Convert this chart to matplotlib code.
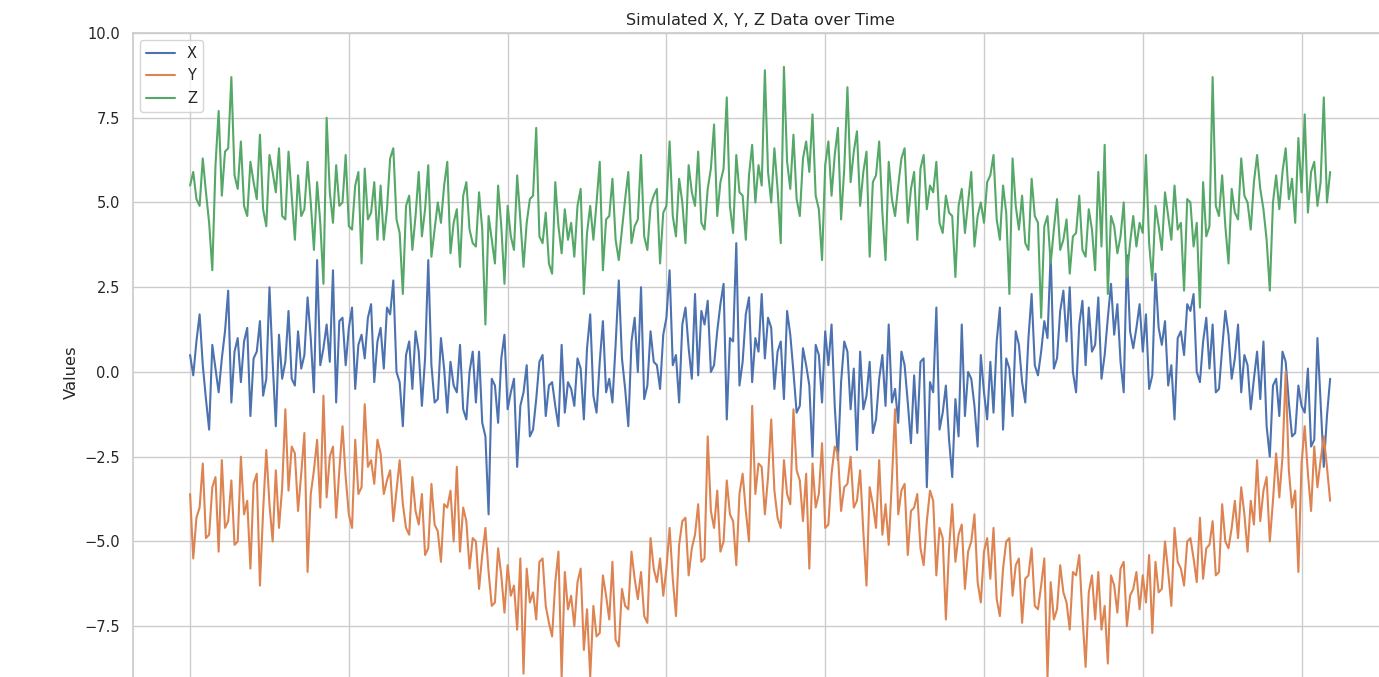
import numpy as np
import matplotlib
matplotlib.use("Agg")
import matplotlib.pyplot as plt
import seaborn as sns

# sensor readings, one sample every 0.2 time units
dt = 0.2

x_vals = [
    0.5, -0.1, 0.9, 1.7, 0.2, -0.8, -1.7, 0.8, 0.1, -0.6, 0.4, 1.2, 2.4, -0.9, 0.6, 1.0, -0.3, 0.9, 1.3, -1.3, 0.4, 0.6, 1.5, -0.7, -0.2, 2.5, 0.3, -1.6, 1.1, -0.2,
    0.3, 1.8, -0.2, -0.4, 1.2, 0.1, 0.5, 2.2, 1.0, -0.6, 3.3, 0.2, 0.7, 1.4, 0.3, 3.0, -0.9, 1.5, 1.6, 0.2, 1.3, 1.9, -0.5, 0.8, 1.1, 0.4, 1.6, 2.0, -0.3, 0.9,
    1.3, 0.1, 1.9, 1.7, 2.7, 0.0, -0.3, -1.6, 0.5, 0.9, -0.5, 1.2, 0.6, -1.0, 0.4, 3.3, 0.2, -0.9, -0.8, 1.0, 0.1, -1.2, 0.3, -0.4, -0.6, 0.8, -1.1, -1.4, 0.0, 0.6,
    -0.9, 0.6, -1.5, -1.9, -4.2, -0.2, -0.4, -1.5, 0.4, 1.1, -1.1, -0.6, -0.2, -2.8, -1.0, -0.6, 0.2, -1.9, -1.7, -0.8, 0.3, 0.5, -1.3, -0.4, -0.3, -1.0, -1.6, 0.8, -1.2, -0.3,
    -0.5, -1.0, 0.4, 0.1, -1.4, 0.7, 1.7, -0.7, -1.2, 0.3, 1.5, -0.6, -0.2, -0.9, 0.8, 2.7, 0.4, -0.5, -1.6, 0.9, 1.6, 0.0, 2.5, -0.8, -0.4, 1.2, 0.3, 0.2, -0.5, 1.1,
    1.6, 3.0, 0.2, 0.5, -0.9, 1.4, 1.9, 0.7, -0.2, 2.3, -0.1, 1.8, 1.4, 2.1, 0.0, 0.2, 1.2, 2.0, 2.6, -1.4, 1.0, 0.9, 3.8, -0.4, 0.3, 1.7, 2.2, -0.3, 1.0, 0.6,
    2.3, 0.4, 1.6, 1.3, -0.5, 0.6, 0.9, -0.8, 1.8, 1.1, 0.0, -1.2, -1.0, 0.7, 0.2, -0.4, -2.5, 0.8, 0.5, -0.9, 1.2, 0.2, 1.4, -1.0, -2.6, -0.3, 0.9, 0.6, -1.1, 0.1,
    -2.3, 0.6, -1.1, -0.7, 0.3, -1.8, -1.4, -0.2, 0.5, -1.0, 1.4, -0.9, -0.5, -1.5, 0.6, 0.2, -0.9, -2.1, -0.1, -1.8, 0.3, 0.4, -3.4, -0.3, -0.6, 1.9, -1.7, -1.2, -0.4, -2.0,
    -3.1, -0.8, -1.9, 1.4, -1.3, 0.0, -0.2, -1.0, -2.2, 0.5, -0.6, -1.4, 0.3, -1.2, 0.9, 1.9, -1.7, 0.4, 0.1, -1.3, 1.2, 0.8, -0.3, -0.9, 1.0, 2.3, 0.2, -0.1, 0.6, 1.5,
    1.0, 3.5, 0.1, 0.4, 1.8, 2.4, 0.9, 2.5, 0.0, -0.6, 1.4, 2.1, 0.2, 1.9, 0.6, 0.8, 2.2, -0.2, 0.5, 1.6, 2.6, 1.1, 2.0, 0.3, -0.6, 3.45, 1.2, 0.7, 1.3, 2.0,
    0.6, 1.7, -0.5, -0.1, 2.9, 1.3, 0.8, 1.5, -0.4, 0.2, -1.4, 1.0, 1.2, 0.5, 2.0, 1.8, 2.3, 0.0, -0.3, 0.9, 1.6, 0.1, 1.4, -0.6, -0.5, 0.7, 1.8, 1.1, -0.2, 0.4,
    1.4, -0.6, 0.5, 0.2, -1.1, -0.2, 0.6, -0.8, 0.9, -1.6, -2.5, -0.4, -0.2, -1.3, 0.6, 0.3, -0.9, -1.9, -1.8, -0.4, -1.0, -1.2, 0.1, -2.2, -2.0, 1.0, -0.9, -2.8, -1.3, -0.2,
]

y_vals = [
    -3.6, -5.5, -4.3, -4.0, -2.7, -4.9, -4.8, -3.4, -3.1, -5.3, -2.6, -4.6, -4.4, -3.2, -5.1, -5.0, -2.5, -4.2, -3.8, -5.8, -3.3, -3.0, -6.3, -4.1, -2.3, -3.9, -5.0, -2.9, -4.6, -3.4,
    -1.1, -3.5, -2.2, -2.4, -4.1, -3.0, -1.8, -5.9, -3.6, -2.9, -2.0, -4.0, -0.7, -3.7, -2.5, -2.2, -4.3, -2.9, -1.6, -3.1, -4.2, -4.6, -2.0, -3.6, -3.4, -0.95, -2.8, -2.6, -3.3, -2.0,
    -2.4, -3.6, -3.2, -2.9, -4.4, -3.5, -2.6, -3.9, -4.6, -4.8, -3.1, -4.1, -4.5, -3.6, -5.4, -5.2, -3.3, -4.5, -4.7, -5.6, -3.9, -4.0, -3.5, -5.0, -2.8, -5.3, -4.0, -4.4, -5.8, -4.9,
    -5.0, -6.4, -5.4, -4.6, -5.9, -6.9, -6.8, -5.2, -6.0, -7.1, -5.7, -6.6, -6.3, -7.6, -5.5, -8.9, -5.8, -6.8, -6.5, -7.3, -5.6, -5.5, -6.9, -7.4, -7.8, -6.2, -5.3, -9.0, -5.9, -7.0,
    -6.6, -7.5, -6.2, -5.8, -8.2, -7.0, -9.0, -6.9, -7.8, -7.7, -6.0, -6.6, -7.3, -5.6, -7.9, -8.1, -6.4, -6.9, -7.0, -5.3, -6.1, -6.7, -5.9, -7.2, -7.4, -4.9, -5.8, -6.2, -5.5, -6.6,
    -5.8, -4.6, -6.1, -7.2, -5.1, -4.4, -4.3, -6.0, -5.2, -4.8, -3.9, -5.6, -5.5, -1.9, -4.1, -4.6, -3.5, -5.3, -5.0, -3.2, -4.2, -4.4, -5.7, -3.6, -3.0, -4.1, -5.0, -1.0, -3.6, -2.7,
    -2.8, -4.2, -3.1, -1.4, -3.5, -4.3, -4.6, -2.6, -3.6, -3.9, -1.1, -2.9, -3.2, -4.4, -3.0, -5.8, -2.7, -4.0, -3.6, -2.1, -4.6, -4.5, -3.0, -2.2, -2.4, -4.1, -3.4, -3.3, -2.5, -4.0,
    -3.8, -2.9, -4.7, -6.3, -3.4, -3.9, -4.6, -2.6, -4.8, -3.9, -5.1, -3.2, -1.1, -4.2, -3.5, -3.3, -5.4, -4.1, -4.0, -3.6, -5.2, -5.7, -4.4, -3.5, -3.8, -6.0, -4.6, -4.9, -7.3, -5.2,
    -3.9, -5.6, -4.8, -4.5, -6.4, -5.3, -5.0, -4.2, -6.2, -6.8, -5.3, -4.9, -6.1, -4.6, -6.7, -7.2, -5.8, -5.0, -4.9, -6.6, -5.7, -5.5, -7.4, -6.1, -6.0, -5.2, -6.9, -7.0, -6.3, -5.5,
    -9.0, -6.2, -7.3, -7.0, -5.7, -6.5, -6.8, -7.6, -5.9, -6.0, -5.4, -7.2, -8.7, -6.5, -6.0, -7.3, -5.9, -7.6, -6.9, -8.6, -6.0, -6.3, -7.1, -5.8, -5.6, -7.5, -6.6, -6.4, -5.9, -7.0,
    -6.0, -6.8, -5.4, -7.7, -5.6, -6.5, -6.4, -5.0, -5.9, -6.9, -4.6, -5.6, -5.8, -6.3, -5.0, -4.9, -5.5, -6.2, -4.3, -6.1, -5.2, -5.1, -4.4, -6.0, -5.9, -3.9, -5.0, -5.2, -4.6, -3.8,
    -4.9, -3.4, -4.2, -5.3, -3.8, -4.5, -2.6, -4.4, -3.5, -3.1, -5.0, -3.8, -2.4, -3.7, -2.5, 0.0, -2.9, -4.0, -3.5, -5.9, -2.7, -1.6, -3.0, -4.1, -2.2, -3.4, -2.6, -1.9, -2.8, -3.8,
]

z_vals = [
    5.5, 5.9, 5.1, 4.9, 6.3, 5.3, 4.4, 3.0, 6.1, 7.7, 5.2, 6.5, 6.6, 8.7, 5.8, 5.4, 6.8, 4.9, 4.6, 6.2, 5.6, 5.1, 7.0, 4.8, 4.3, 6.4, 5.9, 5.3, 6.6, 4.6,
    4.5, 6.5, 5.2, 3.9, 5.8, 4.6, 4.8, 6.2, 5.0, 3.6, 5.6, 4.4, 2.6, 7.5, 5.3, 4.4, 6.1, 4.9, 5.0, 6.4, 4.3, 4.2, 5.5, 5.9, 3.2, 6.0, 4.5, 4.7, 5.6, 3.9,
    5.5, 3.9, 4.8, 6.3, 6.6, 4.5, 4.1, 2.3, 4.9, 5.2, 3.6, 4.6, 5.9, 4.0, 4.8, 6.1, 3.4, 4.2, 5.0, 4.4, 5.5, 6.2, 3.5, 4.4, 4.8, 3.1, 5.2, 5.6, 4.2, 3.8,
    3.7, 5.3, 4.2, 1.4, 4.6, 3.9, 3.2, 5.5, 4.3, 2.6, 4.9, 4.0, 3.6, 5.8, 4.5, 3.1, 4.4, 5.1, 5.2, 7.2, 4.0, 3.8, 4.7, 3.2, 2.9, 5.6, 4.3, 3.5, 4.8, 3.9,
    4.4, 3.4, 4.9, 5.4, 2.3, 4.1, 4.9, 3.9, 5.0, 6.2, 3.0, 4.5, 4.6, 5.7, 3.9, 3.3, 4.2, 5.1, 5.9, 3.8, 4.3, 4.5, 6.4, 4.0, 3.6, 4.9, 5.2, 5.4, 3.2, 4.7,
    4.9, 6.8, 4.6, 4.0, 5.7, 5.0, 3.8, 6.1, 5.3, 4.9, 6.5, 4.4, 4.2, 5.4, 6.0, 7.3, 4.6, 5.6, 6.0, 8.1, 4.9, 4.1, 6.4, 5.3, 5.2, 3.9, 5.8, 6.7, 5.0, 6.1,
    5.5, 8.9, 5.9, 5.0, 6.6, 5.4, 3.8, 9.0, 6.2, 5.4, 7.0, 5.1, 4.6, 6.3, 6.8, 5.9, 7.6, 5.2, 4.8, 3.3, 6.1, 6.8, 5.2, 6.4, 7.2, 4.5, 6.0, 8.4, 5.6, 6.5,
    7.1, 4.9, 5.9, 6.5, 3.4, 5.6, 5.8, 6.8, 4.7, 3.3, 6.2, 5.1, 4.6, 5.5, 6.3, 6.6, 4.4, 5.4, 5.9, 3.9, 6.0, 6.4, 4.8, 5.5, 5.3, 6.2, 4.4, 4.1, 5.2, 4.7,
    4.6, 2.8, 4.9, 5.4, 4.1, 5.0, 5.9, 3.7, 4.6, 5.0, 4.4, 5.6, 5.8, 6.4, 4.5, 3.9, 5.5, 4.7, 2.3, 6.3, 4.9, 4.2, 5.2, 3.8, 3.6, 5.7, 4.6, 4.4, 1.6, 4.3,
    4.6, 3.2, 4.2, 5.1, 3.6, 3.9, 4.5, 2.9, 4.0, 4.1, 5.2, 3.6, 3.4, 4.8, 4.2, 3.0, 5.9, 3.7, 6.7, 2.3, 4.6, 4.3, 3.5, 4.0, 5.0, 2.8, 3.8, 4.6, 3.7, 4.4,
    4.1, 6.4, 3.8, 2.7, 4.9, 4.3, 3.6, 5.3, 4.6, 3.9, 5.5, 4.2, 4.4, 2.4, 5.1, 5.0, 3.7, 4.4, 1.9, 5.6, 4.0, 4.3, 8.7, 4.9, 4.6, 5.8, 4.3, 3.2, 5.4, 4.7,
    4.5, 6.3, 5.2, 5.0, 4.2, 5.6, 6.4, 5.4, 4.8, 3.9, 2.4, 5.0, 5.8, 4.8, 5.9, 6.6, 5.1, 5.7, 4.4, 6.9, 5.3, 7.6, 4.7, 5.9, 6.2, 4.9, 5.6, 8.1, 5.0, 5.9,
]

y_ticks = [-7.5, -5.0, -2.5, 0.0, 2.5, 5.0, 7.5, 10.0]

time = np.arange(len(x_vals)) * dt

sns.set_theme(style="whitegrid")
plt.rcParams['font.family'] = ['DejaVu Sans']

fig = plt.figure(figsize=(13.79, 6.77), dpi=100)
# the axes runs past the right and bottom edges of the saved image
ax = fig.add_axes([0.0965, -0.0502, 0.9094, 1.0015])

ax.plot(time, x_vals, label='X', linewidth=1.5)
ax.plot(time, y_vals, label='Y', linewidth=1.5)
ax.plot(time, z_vals, label='Z', linewidth=1.5)

ax.set_ylim(-10, 10)
ax.xaxis.set_major_locator(plt.MultipleLocator(10))
ax.set_yticks(y_ticks)
ax.tick_params(axis='y', labelsize=10.5)
ax.tick_params(axis='x', labelbottom=False)
ax.set_title("Simulated X, Y, Z Data over Time", fontsize=11.6)
ax.set_ylabel("Values", fontsize=11.8)
ax.legend(loc='upper left', fontsize=10.5)

fig.savefig("out.png", dpi=100)
